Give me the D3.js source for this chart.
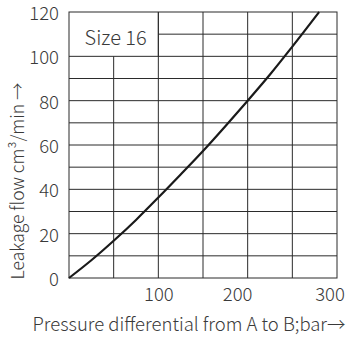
<!DOCTYPE html>
<html>
<head>
<meta charset="utf-8">
<script src="https://cdn.jsdelivr.net/npm/d3@7"></script>
<style>
    html, body { margin: 0; padding: 0; background: #fff; }
    svg { display: block; }
    text { font-family: "Noto Sans CJK SC", "Noto Sans", sans-serif; font-weight: 300; fill: #3a3a3a; }
</style>
</head>
<body>
<svg id="chart" width="349" height="339"></svg>
<script>
// values
const pressure = [0, 25, 50, 75, 100, 125, 150, 175, 200, 225, 250, 280];
const leakage = [0, 8, 16.8, 26.2, 36.3, 46.7, 57.3, 68.5, 80, 91.8, 104.4, 120];
const xTicks = [100, 200, 300];
const yTicks = [0, 20, 40, 60, 80, 100, 120];
const xGrid = [50, 100, 150, 200, 250];
const yGrid = [10, 20, 30, 40, 50, 60, 70, 80, 90, 100, 110];
const sizeLabel = 'Size 16';
const xTitle = 'Pressure differential from A to B;bar\u2192';
const yTitle = 'Leakage flow cm\u00b3/min \u2192';

// label box sits in the top-left corner of the grid
const box = {x: 100, y: 100};
// the x tick labels in the picture are not centred on their lines
const xLabelShift = {100: 0, 200: -10.5, 300: -7.5};

const margin = {top: 12, right: 12, bottom: 61, left: 69};
const width = 349, height = 339;
const fontSize = 18.5;

const svg = d3.select('#chart');

const x = d3.scaleLinear()
    .domain([0, 300])
    .range([margin.left, width - margin.right]);

const y = d3.scaleLinear()
    .domain([0, 120])
    .range([height - margin.bottom, margin.top]);

const grid = svg.append('g')
    .attr('stroke', '#2b2b2b')
    .attr('stroke-width', 1)
    .attr('fill', 'none');

grid.selectAll('line.v')
    .data(xGrid)
    .join('line')
    .attr('class', 'v')
    .attr('x1', d => x(d))
    .attr('x2', d => x(d))
    .attr('y1', y(0))
    .attr('y2', d => d < box.x ? y(box.y) : y(120));

grid.selectAll('line.h')
    .data(yGrid)
    .join('line')
    .attr('class', 'h')
    .attr('y1', d => y(d))
    .attr('y2', d => y(d))
    .attr('x1', d => d > box.y ? x(box.x) : x(0))
    .attr('x2', x(300));

// box edge and frame
grid.append('line')
    .attr('x1', x(box.x)).attr('x2', x(box.x))
    .attr('y1', y(box.y)).attr('y2', y(120));

grid.append('rect')
    .attr('x', x(0))
    .attr('y', y(120))
    .attr('width', x(300) - x(0))
    .attr('height', y(0) - y(120));

svg.append('text')
    .attr('x', (x(0) + x(box.x)) / 2 + 2)
    .attr('y', (y(box.y) + y(120)) / 2 + 2)
    .attr('text-anchor', 'middle')
    .attr('dominant-baseline', 'central')
    .attr('font-size', 20)
    .text(sizeLabel);

// axes, only their labels are shown
const xAxis = svg.append('g')
    .attr('transform', `translate(0,${y(0)})`)
    .call(d3.axisBottom(x).tickValues(xTicks).tickSize(0).tickPadding(10));

xAxis.select('.domain').remove();
xAxis.selectAll('text')
    .attr('font-size', fontSize)
    .attr('font-family', null)
    .attr('fill', null)
    .attr('dx', d => xLabelShift[d]);

const yAxis = svg.append('g')
    .attr('transform', `translate(${x(0)},0)`)
    .call(d3.axisLeft(y).tickValues(yTicks).tickSize(0).tickPadding(10));

yAxis.select('.domain').remove();
yAxis.selectAll('text')
    .attr('font-size', fontSize)
    .attr('font-family', null)
    .attr('fill', null)
    .attr('dy', '0.4em');

svg.append('text')
    .attr('x', 189)
    .attr('y', 331)
    .attr('text-anchor', 'middle')
    .attr('font-size', fontSize)
    .text(xTitle);

svg.append('text')
    .attr('transform', 'translate(24,181) rotate(-90)')
    .attr('text-anchor', 'middle')
    .attr('font-size', 17.5)
    .text(yTitle);

// leakage curve
const line = d3.line()
    .x((d, i) => x(pressure[i]))
    .y(d => y(d))
    .curve(d3.curveMonotoneX);

svg.append('path')
    .datum(leakage)
    .attr('fill', 'none')
    .attr('stroke', '#1a1a1a')
    .attr('stroke-width', 2.2)
    .attr('d', line);
</script>
</body>
</html>
